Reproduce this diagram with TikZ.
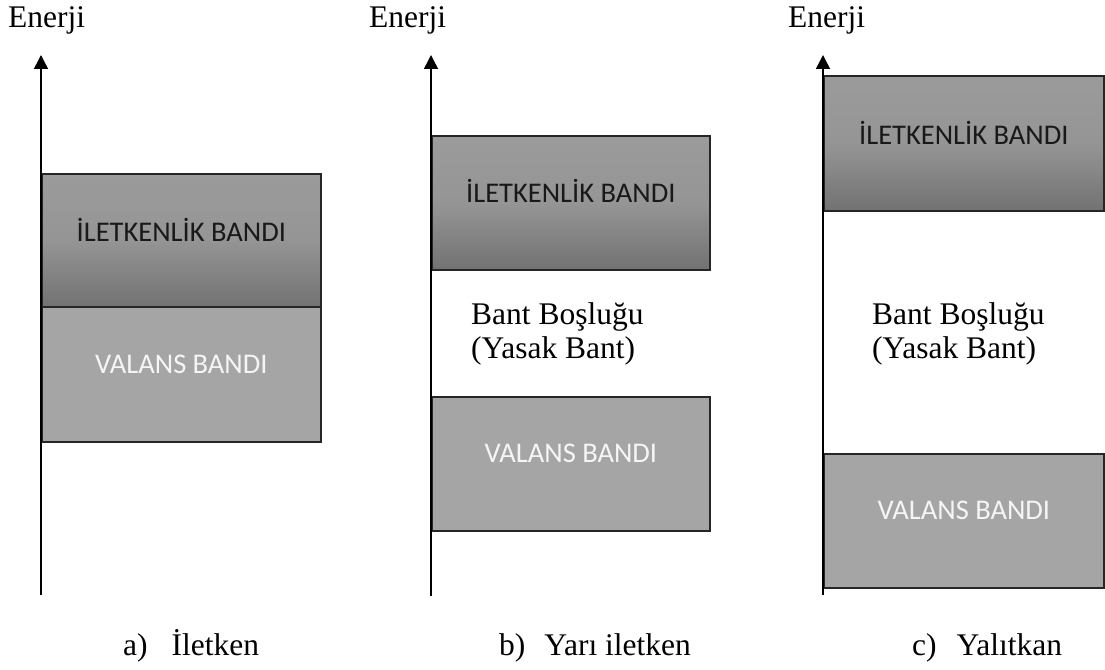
\documentclass[tikz,border=0pt]{standalone}
\usepackage{fontspec}
\setmainfont{Liberation Serif}
\newfontfamily\bandfont{Carlito}
\usetikzlibrary{arrows.meta}

\definecolor{cbtop}{RGB}{155,155,155}
\definecolor{cbbot}{RGB}{114,114,114}
\definecolor{vbfill}{RGB}{165,165,165}
\definecolor{boxline}{RGB}{38,38,38}
\definecolor{cbtext}{RGB}{25,25,25}
\definecolor{vbtext}{RGB}{245,245,245}

\tikzset{
  serif/.style={font=\fontsize{31.5}{36}\selectfont, inner sep=0pt},
  energyaxis/.style={line width=1.5pt, black, -{Triangle[width=14pt,length=14pt]}},
  bandbox/.style={draw=boxline, line width=1.6pt, anchor=north west, inner sep=0pt},
  condband/.style={bandbox, top color=cbtop, bottom color=cbbot, middle color=cbtop!85!cbbot},
  valband/.style={bandbox, fill=vbfill},
  condtext/.style={font=\bandfont\fontsize{28.5}{30}\selectfont, text=cbtext, inner sep=0pt},
  valtext/.style={font=\bandfont\fontsize{28.5}{30}\selectfont, text=vbtext, inner sep=0pt},
}

\begin{document}
\begin{tikzpicture}[x=1pt, y=-1pt]
\useasboundingbox (0,0) rectangle (1105,669);

% ---------- a) conductor ----------
\node[serif, anchor=base west] (ena) at (8,28) {Enerji};
\coordinate (a0) at (41,595);
\coordinate (a1) at (41,55);
\node[condband, minimum width=279pt, minimum height=133pt] (cba) at (41,173) {};
\node[valband, minimum width=279pt, minimum height=135pt] (vba) at (41,306) {};
\draw[energyaxis] (a0) -- (a1);
\node[condtext] (cta) at ([yshift=10pt]cba.center) {İLETKENLİK BANDI};
\node[valtext] (vta) at ([yshift=10pt]vba.center) {VALANS BANDI};
\node[serif, anchor=base west] (capa) at (123,655) {a)\hspace{24pt}İletken};

% ---------- b) semiconductor ----------
\node[serif, anchor=base west] (enb) at (369,28) {Enerji};
\coordinate (b0) at (431,596);
\coordinate (b1) at (431,55);
\node[condband, minimum width=278pt, minimum height=134pt] (cbb) at (431,135) {};
\node[valband, minimum width=278pt, minimum height=134pt] (vbb) at (431,396) {};
\draw[energyaxis] (b0) -- (b1);
\node[condtext] (ctb) at ([yshift=12pt]cbb.center) {İLETKENLİK BANDI};
\node[valtext] (vtb) at ([yshift=10pt]vbb.center) {VALANS BANDI};
\node[serif, anchor=base west] (gb1) at (471,324) {Bant Boşluğu};
\node[serif, anchor=base west] (gb2) at (471,358) {(Yasak Bant)};
\node[serif, anchor=base west] (capb) at (499,655) {b)\hspace{19pt}Yarı iletken};

% ---------- c) insulator ----------
\node[serif, anchor=base west] (enc) at (788,28) {Enerji};
\coordinate (c0) at (823,595);
\coordinate (c1) at (823,55);
\node[condband, minimum width=280pt, minimum height=135pt] (cbc) at (823,75) {};
\node[valband, minimum width=280pt, minimum height=134pt] (vbc) at (823,453) {};
\draw[energyaxis] (c0) -- (c1);
\node[condtext] (ctc) at ([yshift=10pt]cbc.center) {İLETKENLİK BANDI};
\node[valtext] (vtc) at ([yshift=10pt]vbc.center) {VALANS BANDI};
\node[serif, anchor=base west] (gc1) at (872,324) {Bant Boşluğu};
\node[serif, anchor=base west] (gc2) at (872,358) {(Yasak Bant)};
\node[serif, anchor=base west] (capc) at (912,655) {c)\hspace{20pt}Yalıtkan};
\end{tikzpicture}
\end{document}
